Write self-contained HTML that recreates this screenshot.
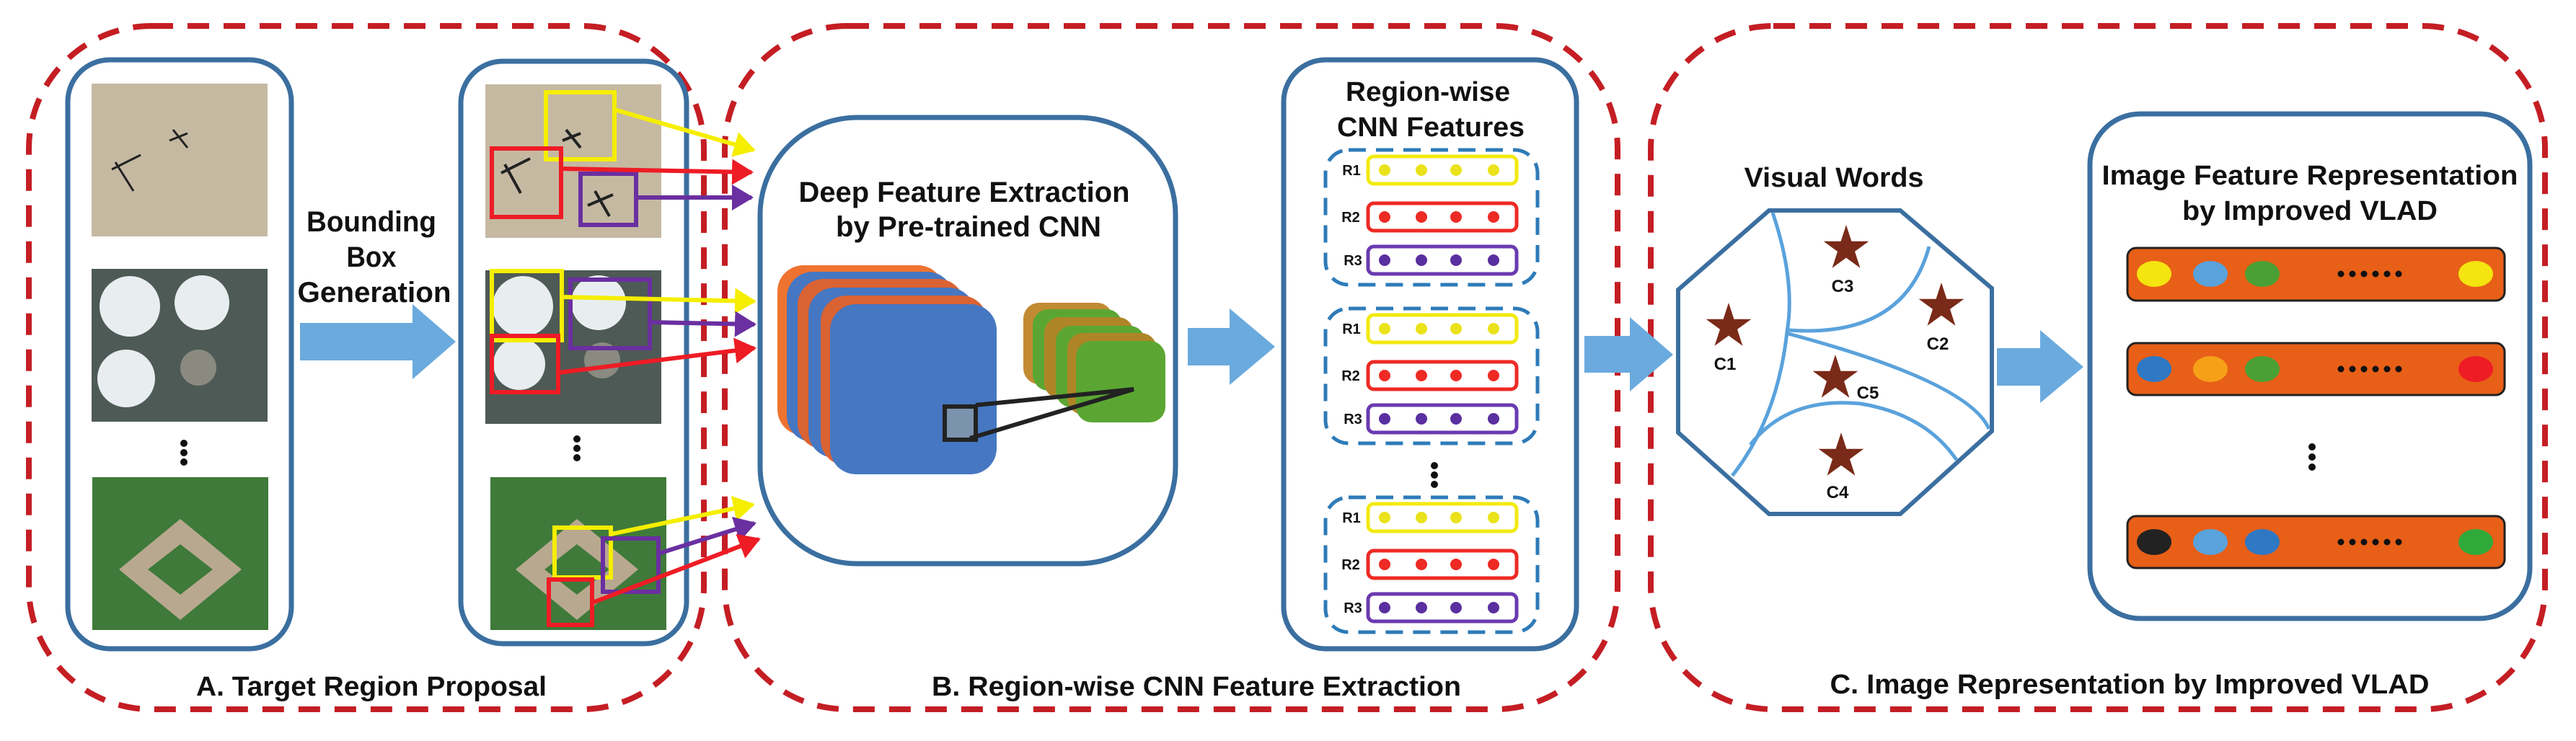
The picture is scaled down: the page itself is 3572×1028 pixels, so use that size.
<!DOCTYPE html>
<html><head><meta charset="utf-8"><style>
html,body{margin:0;padding:0;background:#fff;}
svg{display:block;}
text{font-family:"Liberation Sans Narrow","Liberation Sans",sans-serif;font-weight:bold;fill:#111;}
</style></head><body>
<svg width="3572" height="1028" viewBox="0 0 3572 1028" xmlns="http://www.w3.org/2000/svg">
<defs>
<marker id="ay" markerWidth="6" markerHeight="6" refX="4.5" refY="3" orient="auto" markerUnits="strokeWidth"><path d="M0,0 L5,3 L0,6 z" fill="#f5ee00"/></marker>
<marker id="ar" markerWidth="6" markerHeight="6" refX="4.5" refY="3" orient="auto" markerUnits="strokeWidth"><path d="M0,0 L5,3 L0,6 z" fill="#ee1c25"/></marker>
<marker id="ap" markerWidth="6" markerHeight="6" refX="4.5" refY="3" orient="auto" markerUnits="strokeWidth"><path d="M0,0 L5,3 L0,6 z" fill="#6a2fa0"/></marker>
<symbol id="star" viewBox="-1 -1 2 2"><polygon points="0,-1 0.2245,-0.309 0.951,-0.309 0.363,0.118 0.588,0.809 0,0.382 -0.588,0.809 -0.363,0.118 -0.951,-0.309 -0.2245,-0.309" fill="#7a2a18"/></symbol>
</defs>

<!-- dashed panels -->
<g fill="none" stroke="#c41e24" stroke-width="8" stroke-dasharray="30 20">
<rect x="40" y="36" width="936" height="948" rx="170"/>
<rect x="1005" y="36" width="1238" height="948" rx="170"/>
<rect x="2289" y="36" width="1240" height="948" rx="170"/>
</g>

<!-- Box 1 -->
<rect x="94" y="83" width="310" height="817" rx="58" fill="#fff" stroke="#3b6fa0" stroke-width="7"/>
<rect x="127" y="116" width="244" height="212" fill="#c6b9a2"/>
<g fill="#fff" stroke="#222" stroke-width="3"><path d="M155 235 l40 -20 M160 225 l25 40"/><path d="M240 180 l20 25 M235 195 l25 -10"/></g>
<rect x="127" y="373" width="244" height="212" fill="#4e5a55"/>
<g fill="#e8eef0"><circle cx="180" cy="425" r="42"/><circle cx="280" cy="420" r="38"/><circle cx="175" cy="525" r="40"/><circle cx="275" cy="510" r="25" fill="#8a8a80"/></g>
<g fill="#111"><circle cx="255" cy="615" r="5"/><circle cx="255" cy="628" r="5"/><circle cx="255" cy="641" r="5"/></g>
<rect x="128" y="662" width="244" height="212" fill="#3f7a3a"/>
<path d="M250 720 L335 790 L250 860 L165 790 Z" fill="#b9a890"/>
<path d="M250 755 L295 790 L250 825 L205 790 Z" fill="#3f7a3a"/>

<!-- Bounding box generation -->
<text x="515" y="321" font-size="40" text-anchor="middle" textLength="180" lengthAdjust="spacingAndGlyphs">Bounding</text>
<text x="515" y="370" font-size="40" text-anchor="middle" textLength="69" lengthAdjust="spacingAndGlyphs">Box</text>
<text x="519" y="419" font-size="40" text-anchor="middle" textLength="213" lengthAdjust="spacingAndGlyphs">Generation</text>
<path d="M416 448 H572 V422 L632 474 L572 526 V500 H416 Z" fill="#6aaade"/>

<!-- Box 2 -->
<rect x="639" y="85" width="313" height="808" rx="58" fill="#fff" stroke="#3b6fa0" stroke-width="7"/>
<rect x="673" y="117" width="244" height="213" fill="#c6b9a2"/>
<g stroke="#222" stroke-width="4"><path d="M695 240 l40 -20 M700 228 l22 40"/><path d="M785 180 l20 25 M780 195 l25 -10"/><path d="M815 285 l35 -15 M825 265 l20 35"/></g>
<rect x="673" y="375" width="244" height="213" fill="#4e5a55"/>
<g fill="#e8eef0"><circle cx="725" cy="425" r="42"/><circle cx="830" cy="420" r="38"/><circle cx="720" cy="505" r="36"/><circle cx="835" cy="500" r="25" fill="#8a8a80"/></g>
<g fill="#111"><circle cx="800" cy="609" r="5"/><circle cx="800" cy="622" r="5"/><circle cx="800" cy="635" r="5"/></g>
<rect x="680" y="662" width="244" height="212" fill="#3f7a3a"/>
<path d="M800 720 L885 790 L800 860 L715 790 Z" fill="#b9a890"/>
<path d="M800 755 L845 790 L800 825 L755 790 Z" fill="#3f7a3a"/>
<g fill="none" stroke-width="6">
<rect x="757" y="128" width="95" height="93" stroke="#f5ee00"/>
<rect x="682" y="206" width="96" height="95" stroke="#ee1c25"/>
<rect x="805" y="241" width="77" height="71" stroke="#6a2fa0"/>
<rect x="682" y="376" width="97" height="96" stroke="#f5ee00"/>
<rect x="682" y="466" width="92" height="78" stroke="#ee1c25"/>
<rect x="791" y="388" width="110" height="95" stroke="#6a2fa0"/>
<rect x="769" y="732" width="78" height="69" stroke="#f5ee00"/>
<rect x="836" y="747" width="77" height="74" stroke="#6a2fa0"/>
<rect x="761" y="804" width="60" height="63" stroke="#ee1c25"/>
</g>

<!-- colored arrows -->
<g fill="none" stroke-width="6">
<line x1="852" y1="152" x2="1045" y2="208" stroke="#f5ee00" marker-end="url(#ay)"/>
<line x1="778" y1="234" x2="1042" y2="239" stroke="#ee1c25" marker-end="url(#ar)"/>
<line x1="882" y1="274" x2="1042" y2="274" stroke="#6a2fa0" marker-end="url(#ap)"/>
<line x1="779" y1="412" x2="1046" y2="418" stroke="#f5ee00" marker-end="url(#ay)"/>
<line x1="901" y1="447" x2="1046" y2="450" stroke="#6a2fa0" marker-end="url(#ap)"/>
<line x1="774" y1="517" x2="1046" y2="483" stroke="#ee1c25" marker-end="url(#ar)"/>
<line x1="847" y1="741" x2="1044" y2="700" stroke="#f5ee00" marker-end="url(#ay)"/>
<line x1="913" y1="768" x2="1046" y2="726" stroke="#6a2fa0" marker-end="url(#ap)"/>
<line x1="819" y1="837" x2="1052" y2="748" stroke="#ee1c25" marker-end="url(#ar)"/>
</g>

<!-- Deep feature box -->
<rect x="1054" y="163" width="576" height="619" rx="135" fill="none" stroke="#3b6fa0" stroke-width="7"/>
<text x="1337" y="280" font-size="40" text-anchor="middle" textLength="459" lengthAdjust="spacingAndGlyphs">Deep Feature Extraction</text>
<text x="1343" y="328" font-size="40" text-anchor="middle" textLength="368" lengthAdjust="spacingAndGlyphs">by Pre-trained CNN</text>
<rect x="1078" y="368" width="231" height="236" rx="36" fill="#ef7330"/>
<rect x="1091" y="377" width="231" height="236" rx="36" fill="#4677c2"/>
<rect x="1106" y="387" width="231" height="236" rx="36" fill="#da6333"/>
<rect x="1121" y="399" width="231" height="236" rx="36" fill="#4677c2"/>
<rect x="1138" y="410" width="231" height="236" rx="36" fill="#da6333"/>
<rect x="1151" y="422" width="231" height="236" rx="36" fill="#4677c2"/>
<rect x="1419" y="420" width="124" height="113" rx="22" fill="#c28b33"/>
<rect x="1432" y="429" width="124" height="113" rx="22" fill="#5ba632"/>
<rect x="1448" y="440" width="124" height="113" rx="22" fill="#ae8526"/>
<rect x="1464" y="452" width="124" height="113" rx="22" fill="#5ba632"/>
<rect x="1480" y="462" width="124" height="113" rx="22" fill="#ae8526"/>
<rect x="1492" y="473" width="124" height="113" rx="22" fill="#5ba632"/>
<rect x="1310" y="564" width="43" height="46" fill="#7b93ad" stroke="#222" stroke-width="6"/>
<path d="M1353 562 L1572 540 L1345 608" fill="none" stroke="#222" stroke-width="6" stroke-linejoin="miter"/>

<path d="M1647 455 H1705 V428 L1768 481 L1705 534 V507 H1647 Z" fill="#6aaade"/>

<!-- region-wise features -->
<rect x="1780" y="83" width="406" height="817" rx="58" fill="#fff" stroke="#3b6fa0" stroke-width="7"/>
<text x="1980" y="140" font-size="38" text-anchor="middle" textLength="228" lengthAdjust="spacingAndGlyphs">Region-wise</text>
<text x="1984" y="189" font-size="38" text-anchor="middle" textLength="260" lengthAdjust="spacingAndGlyphs">CNN Features</text>
<g id="grp">
<rect x="1838" y="208" width="294" height="187" rx="32" fill="none" stroke="#2e7bb8" stroke-width="5" stroke-dasharray="24 14"/>
<rect x="1897" y="217" width="206" height="38" rx="8" fill="none" stroke="#f2ea10" stroke-width="5"/>
<rect x="1897" y="282" width="206" height="38" rx="8" fill="none" stroke="#ee2a24" stroke-width="5"/>
<rect x="1897" y="342" width="206" height="38" rx="8" fill="none" stroke="#6a3ab0" stroke-width="5"/>
<g fill="#eae21a"><circle cx="1920" cy="236" r="8"/><circle cx="1971" cy="236" r="8"/><circle cx="2019" cy="236" r="8"/><circle cx="2071" cy="236" r="8"/></g>
<g fill="#ee2a24"><circle cx="1920" cy="301" r="8"/><circle cx="1971" cy="301" r="8"/><circle cx="2019" cy="301" r="8"/><circle cx="2071" cy="301" r="8"/></g>
<g fill="#5a2fa0"><circle cx="1920" cy="361" r="8"/><circle cx="1971" cy="361" r="8"/><circle cx="2019" cy="361" r="8"/><circle cx="2071" cy="361" r="8"/></g>
<text x="1874" y="243" font-size="20" text-anchor="middle">R1</text>
<text x="1873" y="308" font-size="20" text-anchor="middle">R2</text>
<text x="1876" y="368" font-size="20" text-anchor="middle">R3</text>
</g>
<use href="#grp" y="220"/>
<use href="#grp" y="482"/>
<g fill="#111"><circle cx="1989" cy="646" r="5"/><circle cx="1989" cy="659" r="5"/><circle cx="1989" cy="672" r="5"/></g>

<path d="M2197 466 H2260 V440 L2320 492 L2260 543 V517 H2197 Z" fill="#6aaade"/>

<!-- visual words -->
<text x="2543" y="259" font-size="38" text-anchor="middle" textLength="249" lengthAdjust="spacingAndGlyphs">Visual Words</text>
<polygon points="2453,292 2635,292 2762,400 2762,598 2635,713 2453,713 2327,600 2327,402" fill="#fff" stroke="#3b6fa0" stroke-width="6"/>
<g fill="none" stroke="#5aa2dc" stroke-width="5">
<path d="M2458 295 Q2490 390 2478 460 Q2465 580 2402 660"/>
<path d="M2480 458 Q2640 470 2675 342"/>
<path d="M2480 463 Q2730 530 2758 595"/>
<path d="M2427 617 Q2480 550 2580 560 Q2670 575 2713 638"/>
</g>
<use href="#star" x="2527" y="312" width="66" height="66"/>
<use href="#star" x="2659" y="392" width="66" height="66"/>
<use href="#star" x="2364" y="420" width="66" height="66"/>
<use href="#star" x="2512" y="492" width="66" height="66"/>
<use href="#star" x="2520" y="600" width="66" height="66"/>
<g font-size="24" text-anchor="middle">
<text x="2555" y="405">C3</text><text x="2687" y="485">C2</text><text x="2392" y="513">C1</text><text x="2590" y="553">C5</text><text x="2548" y="691">C4</text>
</g>

<path d="M2769 483 H2829 V458 L2889 509 L2829 559 V535 H2769 Z" fill="#6aaade"/>

<!-- VLAD box -->
<rect x="2898" y="158" width="610" height="700" rx="70" fill="#fff" stroke="#3b6fa0" stroke-width="7"/>
<text x="3203" y="256" font-size="38" text-anchor="middle" textLength="577" lengthAdjust="spacingAndGlyphs">Image Feature Representation</text>
<text x="3203" y="305" font-size="38" text-anchor="middle" textLength="354" lengthAdjust="spacingAndGlyphs">by Improved VLAD</text>
<g stroke="#222" stroke-width="3" fill="#e85f18">
<rect x="2950" y="344" width="523" height="73" rx="12"/>
<rect x="2950" y="476" width="523" height="72" rx="12"/>
<rect x="2950" y="716" width="523" height="72" rx="12"/>
</g>
<g>
<ellipse cx="2987" cy="380" rx="24" ry="18" fill="#f4e410"/><ellipse cx="3065" cy="380" rx="24" ry="18" fill="#5aa2dc"/><ellipse cx="3137" cy="380" rx="24" ry="18" fill="#4aa034"/><ellipse cx="3433" cy="380" rx="24" ry="18" fill="#f4e410"/>
<ellipse cx="2987" cy="512" rx="24" ry="18" fill="#2e78c4"/><ellipse cx="3065" cy="512" rx="24" ry="18" fill="#f6a018"/><ellipse cx="3137" cy="512" rx="24" ry="18" fill="#4aa034"/><ellipse cx="3433" cy="512" rx="24" ry="18" fill="#ee1c25"/>
<ellipse cx="2987" cy="752" rx="24" ry="18" fill="#222"/><ellipse cx="3065" cy="752" rx="24" ry="18" fill="#5aa2dc"/><ellipse cx="3137" cy="752" rx="24" ry="18" fill="#2e78c4"/><ellipse cx="3433" cy="752" rx="24" ry="18" fill="#2faa3a"/>
</g>
<g fill="#111">
<g id="dd"><circle cx="3246" cy="380" r="4.5"/><circle cx="3262" cy="380" r="4.5"/><circle cx="3278" cy="380" r="4.5"/><circle cx="3294" cy="380" r="4.5"/><circle cx="3310" cy="380" r="4.5"/><circle cx="3326" cy="380" r="4.5"/></g>
<use href="#dd" y="132"/><use href="#dd" y="372"/>
<circle cx="3206" cy="620" r="5"/><circle cx="3206" cy="634" r="5"/><circle cx="3206" cy="648" r="5"/>
</g>

<!-- panel labels -->
<text x="515" y="965" font-size="38" text-anchor="middle" textLength="486" lengthAdjust="spacingAndGlyphs">A. Target Region Proposal</text>
<text x="1659" y="965" font-size="38" text-anchor="middle" textLength="734" lengthAdjust="spacingAndGlyphs">B. Region-wise CNN Feature Extraction</text>
<text x="2953" y="962" font-size="38" text-anchor="middle" textLength="831" lengthAdjust="spacingAndGlyphs">C. Image Representation by Improved VLAD</text>
</svg>
</body></html>
